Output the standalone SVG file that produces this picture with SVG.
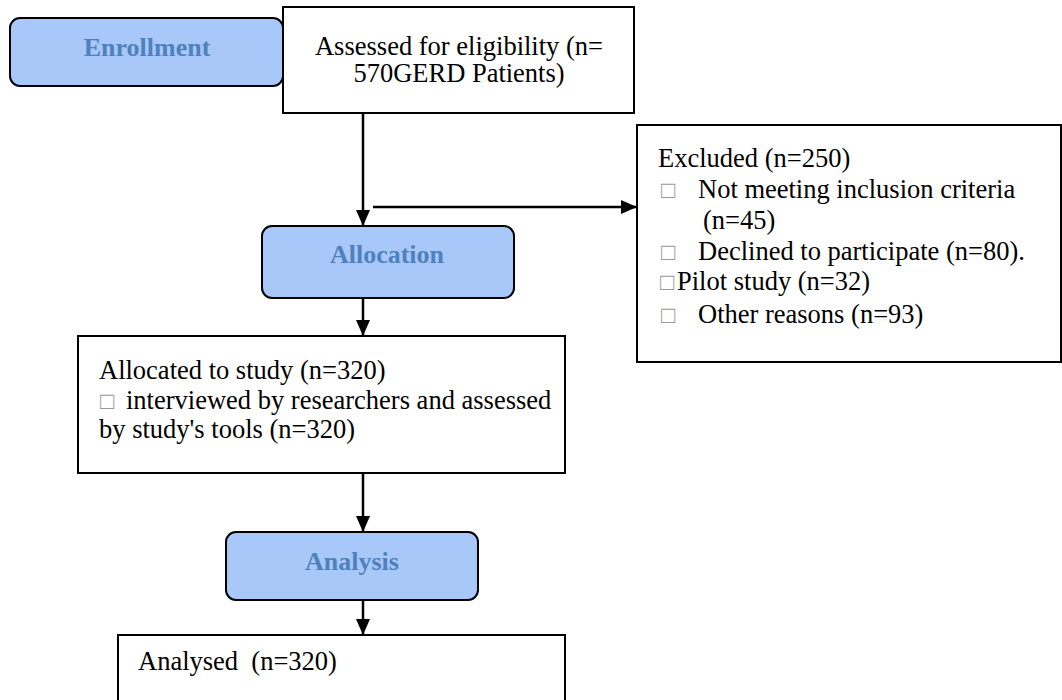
<svg xmlns="http://www.w3.org/2000/svg" width="1062" height="700" viewBox="0 0 1062 700">
<style>
.stage{fill:#A8C8FA;stroke:#000;stroke-width:2}
.box{fill:#fff;stroke:#000;stroke-width:2}
.st{font-family:"Liberation Serif","Times New Roman",serif;font-weight:bold;font-size:26px;fill:#4F81BD;text-anchor:middle}
.t{font-family:"Liberation Serif","Times New Roman",serif;font-size:26.5px;fill:#000}
.sq{fill:#999;font-size:24px}
.conn{stroke:#000;stroke-width:2.5;fill:none}
</style>
<defs>
<marker id="ah" markerWidth="16" markerHeight="14" refX="16" refY="7" orient="auto" markerUnits="userSpaceOnUse">
<path d="M0,0 L16,7 L0,14 Z" fill="#000"/>
</marker>
</defs>
<g id="connectors">
<line class="conn" x1="363" y1="113" x2="363" y2="226" marker-end="url(#ah)"/>
<line class="conn" x1="373" y1="207" x2="637" y2="207" marker-end="url(#ah)"/>
<line class="conn" x1="363" y1="298" x2="363" y2="336" marker-end="url(#ah)"/>
<line class="conn" x1="363" y1="473" x2="363" y2="532" marker-end="url(#ah)"/>
<line class="conn" x1="363" y1="600" x2="363" y2="635" marker-end="url(#ah)"/>
</g>
<g id="enrollment">
<rect class="stage" x="10" y="18" width="273" height="68" rx="10"/>
<text class="st" x="147" y="56">Enrollment</text>
</g>
<g id="assessed">
<rect class="box" x="283" y="7" width="351" height="106"/>
<text class="t" x="459" y="55" text-anchor="middle">Assessed for eligibility (n=</text>
<text class="t" x="459" y="82" text-anchor="middle">570GERD Patients)</text>
</g>
<g id="excluded">
<rect class="box" x="637" y="125" width="424" height="237"/>
<text class="t" x="658" y="167">Excluded (n=250)</text>
<text class="t" x="661" y="198"><tspan class="sq">□</tspan><tspan x="698">Not meeting inclusion criteria</tspan></text>
<text class="t" x="703" y="229">(n=45)</text>
<text class="t" x="661" y="260"><tspan class="sq">□</tspan><tspan x="698">Declined to participate (n=80).</tspan></text>
<text class="t" x="660" y="290"><tspan class="sq">□</tspan><tspan x="677">Pilot study (n=32)</tspan></text>
<text class="t" x="661" y="323"><tspan class="sq">□</tspan><tspan x="698">Other reasons (n=93)</tspan></text>
</g>
<g id="allocation">
<rect class="stage" x="262" y="226" width="252" height="72" rx="10"/>
<text class="st" x="387" y="263">Allocation</text>
</g>
<g id="allocated">
<rect class="box" x="78" y="336" width="487" height="137"/>
<text class="t" x="99" y="379">Allocated to study (n=320)</text>
<text class="t" x="100" y="409"><tspan class="sq">□</tspan><tspan x="126">interviewed by researchers and assessed</tspan></text>
<text class="t" x="99" y="438">by study's tools (n=320)</text>
</g>
<g id="analysis">
<rect class="stage" x="226" y="532" width="252" height="68" rx="10"/>
<text class="st" x="352" y="570">Analysis</text>
</g>
<g id="analysed">
<rect class="box" x="118" y="635" width="447" height="80"/>
<text class="t" x="138" y="670" xml:space="preserve">Analysed  (n=320)</text>
</g>
</svg>
